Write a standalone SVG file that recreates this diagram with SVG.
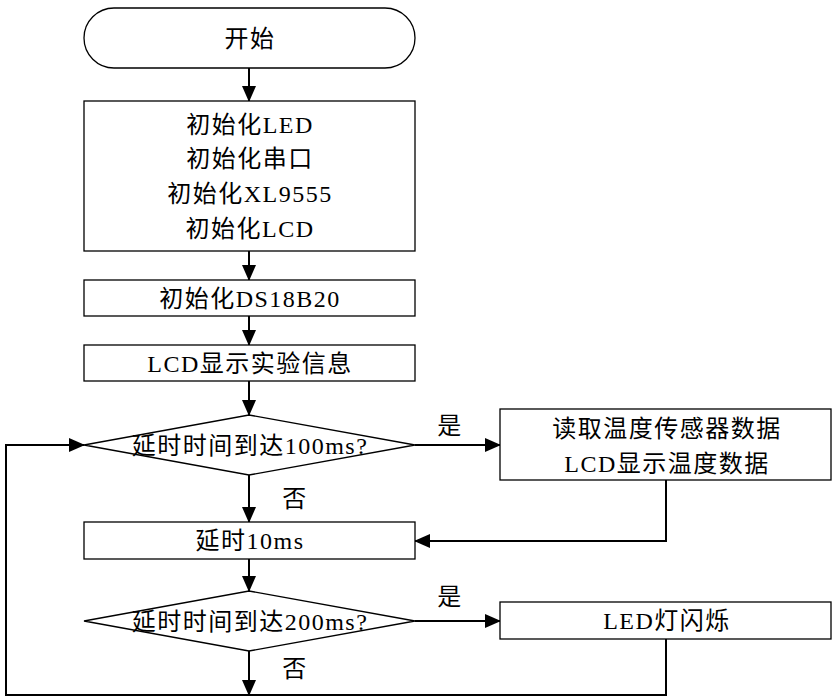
<svg xmlns="http://www.w3.org/2000/svg" width="834" height="698" viewBox="0 0 834 698">
<defs>
<marker id="arrH" markerWidth="16" markerHeight="16" refX="15" refY="8" orient="auto" markerUnits="userSpaceOnUse" viewBox="0 0 16 16">
<path d="M0,1 L16,8 L0,15 z" fill="#000"/>
</marker>
</defs>
<style>
.s{fill:#fff;stroke:#000;stroke-width:1.3}
.t{font-family:"Liberation Serif","Noto Sans CJK SC",serif;font-size:24px;letter-spacing:1.5px;fill:#000;text-anchor:middle}
.c{fill:none;stroke:#000;stroke-width:2;marker-end:url(#arrH)}
</style>
<rect width="834" height="698" fill="#fff"/>
<g id="connectors">
<path class="c" d="M249,68 V101"/>
<path class="c" d="M249,251 V280"/>
<path class="c" d="M249,316 V345"/>
<path class="c" d="M249,381 V415"/>
<path class="c" d="M249,475 V522"/>
<path class="c" d="M249,559 V591"/>
<path class="c" d="M249,651 V695"/>
<path class="c" d="M415,445 H500"/>
<path class="c" d="M415,621 H500"/>
<path class="c" d="M666,480 V541 H415"/>
<path class="c" d="M666,639 V695 H6 V445 H84"/>
<text class="t" x="450" y="434">是</text>
<text class="t" x="450" y="605">是</text>
<text class="t" x="295" y="507">否</text>
<text class="t" x="295" y="677">否</text>
</g>
<g id="start">
<rect class="s" x="84" y="8" width="331" height="60" rx="30" ry="30"/>
<text class="t" x="250" y="47">开始</text>
</g>
<g id="init">
<rect class="s" x="84" y="101" width="331" height="150"/>
<text class="t" x="250" y="133">初始化LED</text>
<text class="t" x="250" y="167">初始化串口</text>
<text class="t" x="250" y="202">初始化XL9555</text>
<text class="t" x="250" y="237">初始化LCD</text>
</g>
<g id="initds">
<rect class="s" x="84" y="280" width="331" height="36"/>
<text class="t" x="250" y="307">初始化DS18B20</text>
</g>
<g id="lcdinfo">
<rect class="s" x="84" y="345" width="331" height="36"/>
<text class="t" x="250" y="372">LCD显示实验信息</text>
</g>
<g id="dec100">
<polygon class="s" points="84,445 249,415 415,445 249,475"/>
<text class="t" x="250" y="454">延时时间到达100ms?</text>
</g>
<g id="read">
<rect class="s" x="500" y="409" width="331" height="71"/>
<text class="t" x="667" y="437">读取温度传感器数据</text>
<text class="t" x="667" y="472">LCD显示温度数据</text>
</g>
<g id="delay">
<rect class="s" x="84" y="522" width="331" height="37"/>
<text class="t" x="250" y="549">延时10ms</text>
</g>
<g id="dec200">
<polygon class="s" points="84,621 249,591 415,621 249,651"/>
<text class="t" x="250" y="630">延时时间到达200ms?</text>
</g>
<g id="led">
<rect class="s" x="500" y="602" width="331" height="37"/>
<text class="t" x="667" y="629">LED灯闪烁</text>
</g>
</svg>
